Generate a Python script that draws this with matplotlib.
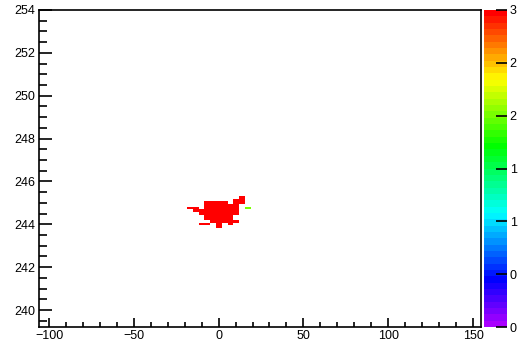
import numpy as np
import matplotlib
matplotlib.use("Agg")
import matplotlib.pyplot as plt
from matplotlib.colors import ListedColormap, hsv_to_rgb

plt.rcParams['font.family'] = ['Liberation Sans', 'DejaVu Sans']

# Filled bins of the 2D histogram (bin centres and contents)
x_cells = [13.9,
           10.4, 13.9,
           -6.7, -3.2, 0.2, 3.6, 10.4, 13.9,
           -6.7, -3.2, 0.2, 3.6, 7.0, 10.4,
           -16.9, -13.5, -6.7, -3.2, 0.2, 3.6, 7.0, 10.4, 17.3,
           -13.5, -10.1, -6.7, -3.2, 0.2, 3.6, 7.0, 10.4,
           -10.1, -6.7, -3.2, 0.2, 3.6, 7.0, 10.4,
           -6.7, -3.2, 0.2, 3.6, 7.0,
           -6.7, -3.2, 0.2, 3.6, 7.0,
           -3.2, 0.2, 3.6, 7.0, 10.4,
           -10.1, -6.7, 0.2, 7.0,
           0.2]
y_cells = [245.26,
           245.14, 245.14,
           245.01, 245.01, 245.01, 245.01, 245.01, 245.01,
           244.89, 244.89, 244.89, 244.89, 244.89, 244.89,
           244.76, 244.76, 244.76, 244.76, 244.76, 244.76, 244.76, 244.76, 244.76,
           244.64, 244.64, 244.64, 244.64, 244.64, 244.64, 244.64, 244.64,
           244.51, 244.51, 244.51, 244.51, 244.51, 244.51, 244.51,
           244.39, 244.39, 244.39, 244.39, 244.39,
           244.26, 244.26, 244.26, 244.26, 244.26,
           244.14, 244.14, 244.14, 244.14, 244.14,
           244.01, 244.01, 244.01, 244.01,
           243.89]
z_cells = [3.0] * len(x_cells)
z_cells[x_cells.index(17.3)] = 2.0  # the single lime bin

# histogram binning
x_edges = 15.57 + 3.42 * np.arange(-11, 2)
y_edges = 244.70 + 0.125 * np.arange(-8, 6)

cbar_ticks = [0, 0.5, 1, 1.5, 2, 2.5, 3]
cbar_labels = ["0", "0", "1", "1", "2", "2", "3"]

# ROOT-like rainbow palette (violet -> red), 50 steps
hues = np.linspace(280, 0, 50) / 360.0
pal = ListedColormap(hsv_to_rgb(np.column_stack([hues, np.ones(50), np.ones(50)])))

H, _, _ = np.histogram2d(x_cells, y_cells, bins=[x_edges, y_edges], weights=z_cells)
H = np.ma.masked_equal(H, 0)

fig = plt.figure(figsize=(5.19, 3.44), dpi=100)
ax = fig.add_axes([39 / 519, 1 - 327 / 344, 442 / 519, 317 / 344])
mesh = ax.pcolormesh(x_edges, y_edges, H.T, cmap=pal, vmin=0, vmax=3)

ax.set_xlim(-105.9, 154.7)
ax.set_ylim(239.21, 254)
ax.set_xticks([-100, -50, 0, 50, 100, 150])
ax.set_xticks(np.arange(-100, 155, 10), minor=True)
ax.set_yticks(np.arange(240, 255, 2))
ax.set_yticks(np.arange(239.5, 254, 0.5), minor=True)
ax.tick_params(which="both", direction="in", top=False, right=False, labelsize=9, width=1.2)
ax.tick_params(axis="x", which="major", length=6.5, pad=2)
ax.tick_params(axis="x", which="minor", length=3.3)
ax.tick_params(axis="y", which="major", length=9.5, pad=3)
ax.tick_params(axis="y", which="minor", length=6)
for s in ax.spines.values():
    s.set_linewidth(1.2)

# colour scale
cax = fig.add_axes([484 / 519, 1 - 327 / 344, 23 / 519, 317 / 344])
cb = fig.colorbar(mesh, cax=cax)
cb.outline.set_visible(False)
cb.set_ticks(cbar_ticks)
cb.set_ticklabels(cbar_labels)
cax.tick_params(direction="in", length=8, width=1.2, labelsize=9, pad=2)
cax.minorticks_off()

fig.savefig("out.png", dpi=100)
